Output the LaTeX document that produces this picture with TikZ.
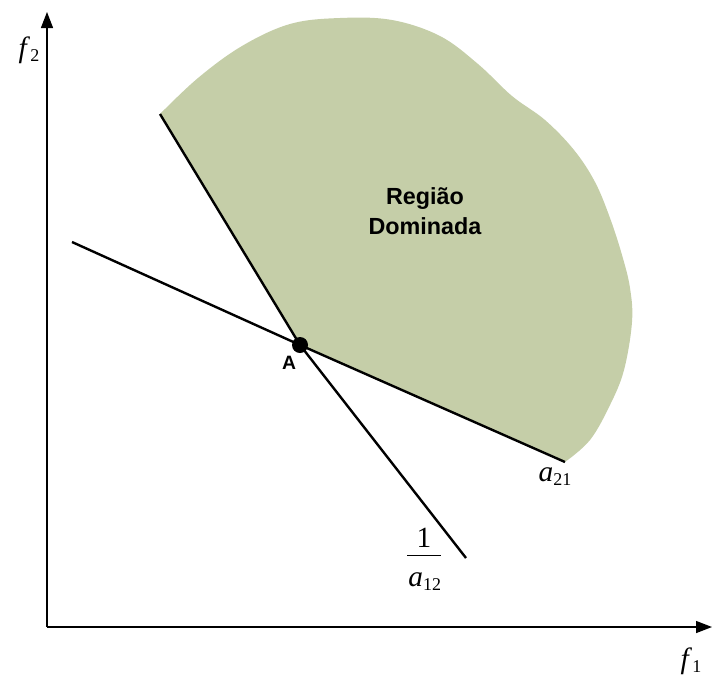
\documentclass[tikz,border=0pt]{standalone}
\usepackage{fontspec}
\setmainfont{Liberation Serif}
\newfontfamily\lsans{Liberation Sans}
\usepackage{xcolor}
\definecolor{domgreen}{RGB}{197,206,168}
\usetikzlibrary{arrows.meta}
\newcommand{\mvar}[2]{\fontsize{22}{24}\selectfont\textit{#1}\raisebox{-3pt}{\fontsize{13.5}{14}\selectfont #2}}

\begin{document}
\begin{tikzpicture}[x=0.75pt, y=-0.75pt,
    axis/.style={line width=1pt, -{Triangle[length=12pt, width=9pt]}},
    bound/.style={line width=1.8pt, black},
    lbl/.style={inner sep=0pt}]

\useasboundingbox (0,0) rectangle (712,679);

% === Dominated region ===
\fill[domgreen] (160,114) -- (300,345) -- (565,462)
    -- plot[smooth, tension=0.6] coordinates {(565,462) (590,440) (610,405) (624,370) (632,322)
       (630,288) (622,255) (610,218) (595,182) (574,150) (545,120) (512,96)
       (478,64) (440,36) (392,20) (340,18) (290,24) (242,46) (198,78) (160,114)}
    -- cycle;

\node[lbl, font=\lsans\bfseries\fontsize{17.5}{22.5}\selectfont, align=center] (reg) at (425,211)
     {Região\\Dominada};

% === Axes ===
\coordinate (O) at (47,627);
\coordinate (ytip) at (47,12);
\coordinate (xtip) at (712,627);
\draw[axis] (O) -- (ytip);
\draw[axis] (O) -- (xtip);
\node[lbl] (f2) at (29,50) {\mvar{f}{2}};
\node[lbl] (f1) at (691,661) {\mvar{f}{1}};

% === Boundary lines ===
\node[circle, fill=black, inner sep=0pt, minimum size=12pt] (A) at (300,345) {};
\coordinate (l1a) at (160,114);
\coordinate (l1b) at (466,558);
\coordinate (l2a) at (72,242);
\coordinate (l2b) at (565,462);
\draw[bound] (l1a) -- (A.center) -- (l1b);
\draw[bound] (l2a) -- (A.center) -- (l2b);

% Labels
\node[lbl, font=\lsans\bfseries\fontsize{14.5}{16}\selectfont] (Alab) at (289,363) {A};
\node[lbl] (a21) at (555,477) {\mvar{a}{21}};
\node[lbl] (frac) at (424,560)
     {\begin{tabular}{@{}c@{}}\fontsize{22}{24}\selectfont 1\\[2pt]\hline
      \rule{0pt}{23pt}\hspace{1pt}\mvar{a}{12}\hspace{1pt}\end{tabular}};

\end{tikzpicture}
\end{document}
